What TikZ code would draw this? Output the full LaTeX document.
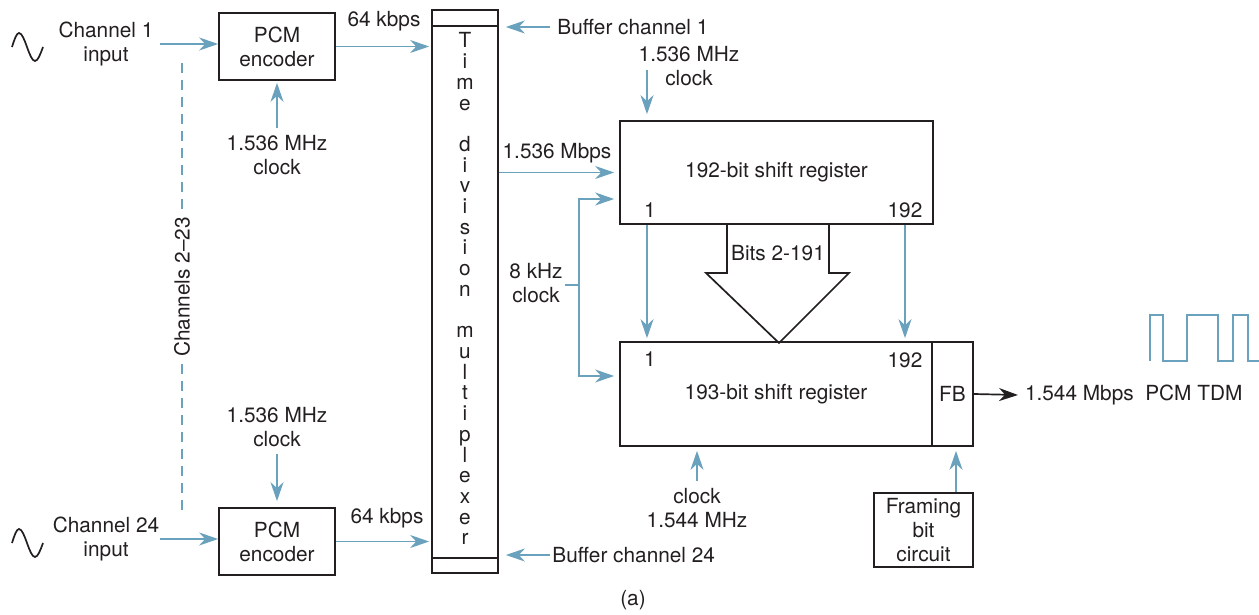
\documentclass[tikz,border=0pt]{standalone}
\usepackage{fontspec}
\setmainfont{TeX Gyre Heros}
\usetikzlibrary{arrows.meta, positioning, calc}
\definecolor{linkblue}{RGB}{106,161,189}
\definecolor{inkgray}{RGB}{35,31,32}

\begin{document}
\begin{tikzpicture}[
    x=0.5pt, y=-0.5pt,
    every node/.style={font=\fontsize{10.4}{12}\selectfont, text=inkgray},
    block/.style={draw=inkgray, line width=0.85pt, align=center, inner sep=0pt},
    lbl/.style={align=center},
    sig/.style={draw=linkblue, line width=0.9pt,
                -{Stealth[length=9.5pt,width=6.5pt,inset=3pt]}},
    wire/.style={draw=linkblue, line width=0.9pt},
    ink/.style={draw=inkgray, line width=0.85pt},
    letter/.style={anchor=base, inner sep=0pt}
  ]
  \useasboundingbox (0,0) rectangle (1259,615);

  % channel inputs and encoders
  \node[lbl] (ch1) at (106,44) {Channel 1\\input};
  \node[lbl, inner xsep=0pt] (ch24) at (106,539) {Channel 24\\input};
  \node[block, minimum width=58pt, minimum height=33.5pt] (enc1) at (277,46.5) {PCM\\encoder};
  \node[block, minimum width=58pt, minimum height=33.5pt] (enc24) at (277,541.5) {PCM\\encoder};
  \node[lbl] (clk1) at (277,155) {1.536 MHz\\clock};
  \node[lbl] (clk24) at (277,427) {1.536 MHz\\clock};

  \draw[ink] (12,47) sin (19,33) cos (27,47) sin (35,61) cos (43,47);
  \draw[ink] (12,543) sin (19,529) cos (27,543) sin (35,557) cos (43,543);

  \draw[sig] (ch1.east) -- (ch1.east -| enc1.west);
  \draw[sig] (ch24.east) -- (ch24.east -| enc24.west);
  \draw[sig, shorten >=1pt] (clk1.north) -- (enc1.south);
  \draw[sig, shorten >=3pt] (clk24.south) -- (enc24.north);

  % channels 2-23
  \node[rotate=90] (chans) at (182,287) {Channels 2--23};
  \coordinate (dtop) at (182,63);
  \coordinate (dbot) at (182,517);
  \draw[wire, dash pattern=on 5pt off 3.5pt] (dtop) -- (chans.east);
  \draw[wire, dash pattern=on 5pt off 3.5pt] (chans.west) -- (dbot);

  % multiplexer
  \node[block, minimum width=33pt, minimum height=281.5pt] (mux) at (465,291.5) {};
  \draw[ink] ([yshift=-8.5pt]mux.north west) -- ([yshift=-8.5pt]mux.north east);
  \draw[ink] ([yshift=8pt]mux.south west) -- ([yshift=8pt]mux.south east);
  \foreach \ch [count=\k] in {T,i,m,e,{},d,i,v,i,s,i,o,n,{},m,u,l,t,i,p,l,e,x,e,r}
    \node[letter] (ltr\k) at (465,{48+(\k-1)*20.7}) {\ch};

  \node (kb1) at (384,21) {64 kbps};
  \node (kb24) at (387,518) {64 kbps};
  \draw[sig, shorten >=1pt] (enc1.east) -- (enc1.east -| mux.west);
  \draw[sig, shorten >=1pt] (enc24.east) -- (enc24.east -| mux.west);

  \node[anchor=west, inner xsep=3.5pt] (buf1) at (550,27) {Buffer channel 1};
  \node[anchor=west, inner xsep=1pt] (buf24) at (550,555) {Buffer channel 24};
  \draw[sig, shorten >=3.5pt] (buf1.west) -- (buf1.west -| mux.east);
  \draw[sig, shorten >=3.5pt] (buf24.west) -- (buf24.west -| mux.east);

  % shift registers
  \node[block, minimum width=156.5pt, minimum height=51.5pt] (reg192) at (776.5,172.5) {192-bit shift register};
  \node[block, minimum width=156pt, minimum height=52pt] (reg193) at (776,394) {193-bit shift register};
  \node[block, minimum width=20.5pt, minimum height=52pt] (fb) at (952.5,394) {FB};
  \node[block, minimum width=49.5pt, minimum height=37pt] (frame) at (923.5,530) {Framing\\bit\\circuit};

  \node (b1a) at (650,210) {1};
  \node (b192a) at (905,210) {192};
  \node (b1b) at (650,359) {1};
  \node (b192b) at (905,360) {192};

  \node (rate) at (557,153) {1.536 Mbps};
  \draw[sig, shorten >=2.5pt] (mux.east |- reg192.center) -- (reg192.west);

  \node[lbl] (clk192) at (689,66) {1.536 MHz\\clock};
  \coordinate (clkin) at (647,70);
  \draw[sig, shorten >=3pt] (clkin) -- (clkin |- reg192.north);

  \node[lbl, inner xsep=1pt] (kclk) at (536,283) {8 kHz\\clock};
  \coordinate (kjoin) at (579,285);
  \draw[wire] (kclk.east |- kjoin) -- (kjoin);
  \draw[sig, shorten >=2.5pt] (kjoin) |- ([yshift=-13.25pt]reg192.west);
  \draw[sig, shorten >=2.5pt] (kjoin) |- ([yshift=9pt]reg193.west);

  \draw[sig, shorten >=1.5pt] (reg192.south -| b1a) ++(-3,0) coordinate (d1) -- (d1 |- reg193.north);
  \draw[sig, shorten >=1.5pt] (reg192.south -| b192a) -- (b192a |- reg193.north);

  % bits 2-191 transfer
  \draw[ink, line join=miter] (727,224) -- (727,273) -- (706,273) -- (779,343)
    -- (849,273) -- (829,273) -- (829,224);
  \node (bits) at (778,253) {Bits 2-191};

  \node[lbl] (clk193) at (697,508) {clock\\1.544 MHz};
  \draw[sig, shorten >=2pt] (clk193.north) -- (clk193.north |- reg193.south);
  \draw[sig, shorten >=2pt] (frame.north -| 956,0) -- (956,0 |- fb.south);

  % output
  \node[anchor=west] (tdm) at (1018,395) {1.544 Mbps\ \ PCM TDM};
  \draw[ink, -{Stealth[length=9.5pt,width=6.5pt,inset=3pt]}] (fb.east) -- (tdm.west);
  \draw[wire] (1150,361) -- (1150,315) -- (1163,315) -- (1163,361) -- (1187,361)
    -- (1187,315) -- (1218,315) -- (1218,361) -- (1233,361) -- (1233,315)
    -- (1248,315) -- (1248,361) -- (1259,361);

  \node (cap) at (633,600) {(a)};
\end{tikzpicture}
\end{document}
